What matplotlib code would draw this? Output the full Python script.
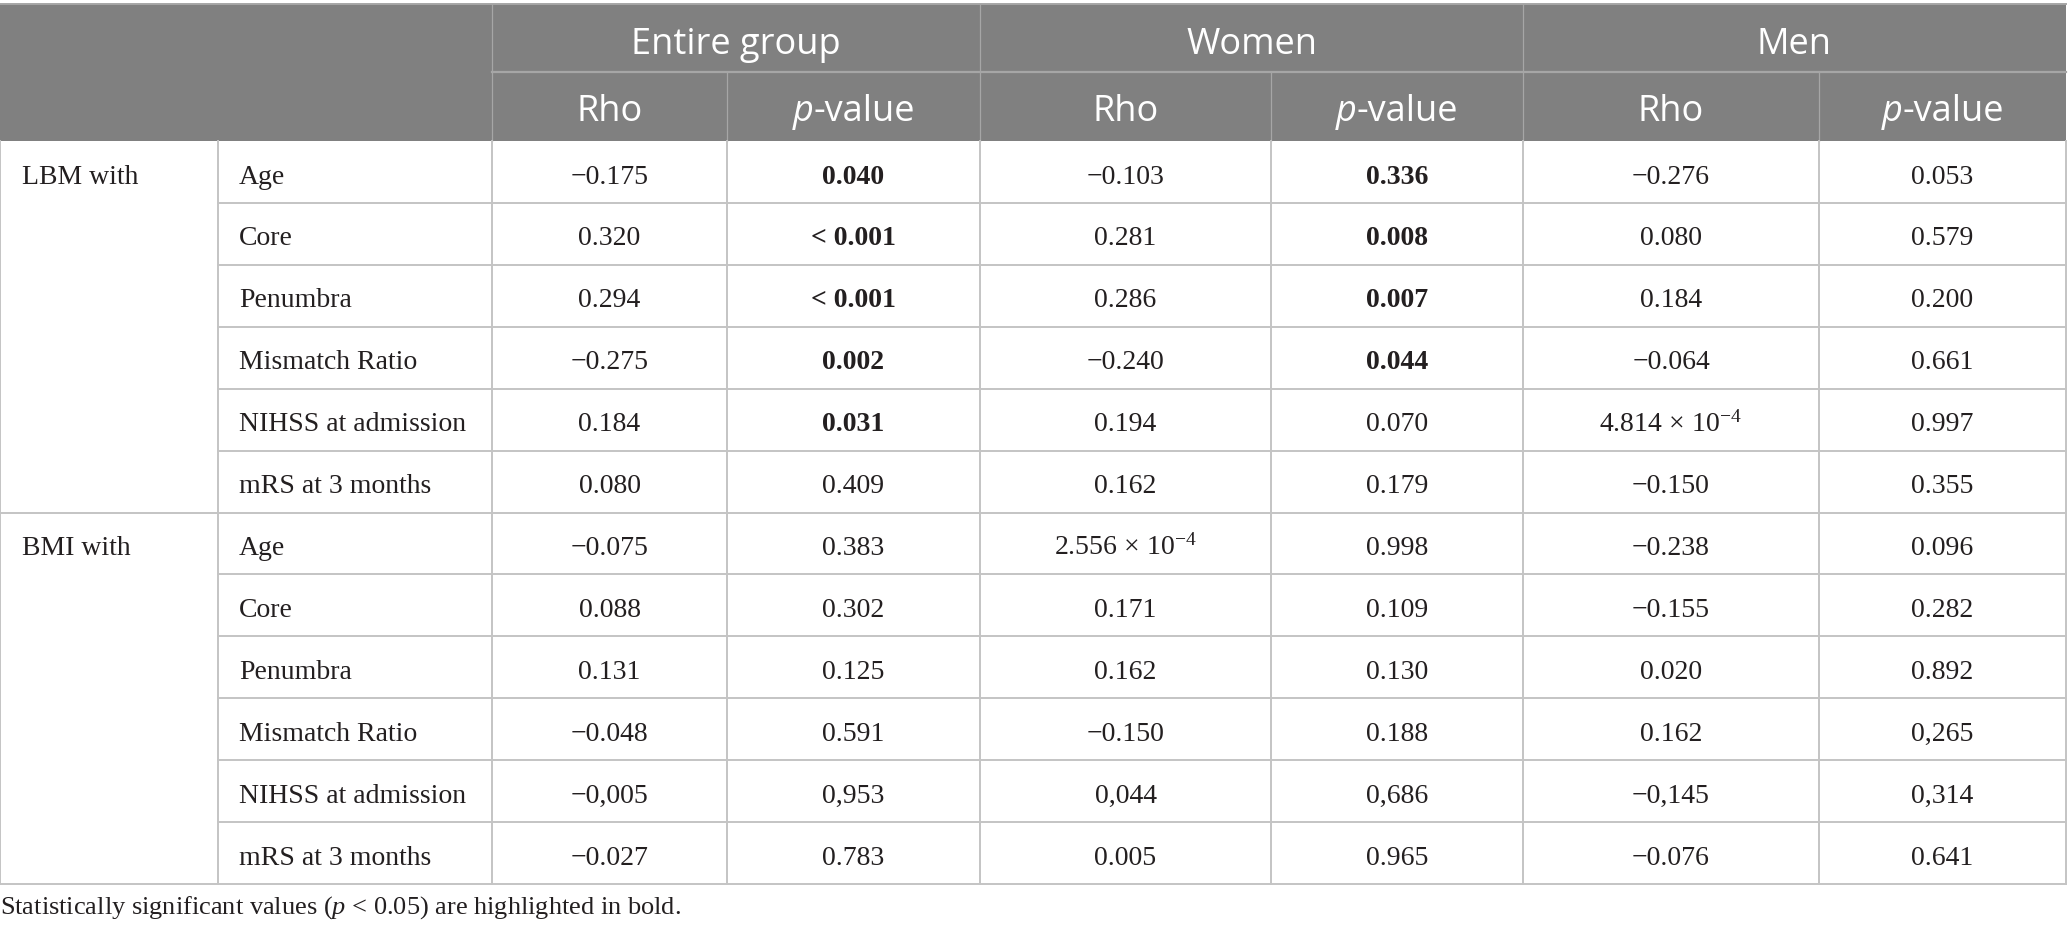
import matplotlib
matplotlib.use("Agg")
import matplotlib.pyplot as plt
from matplotlib.patches import Rectangle

plt.rcParams['mathtext.fontset'] = 'custom'
plt.rcParams['mathtext.rm'] = 'Liberation Serif'
plt.rcParams['mathtext.it'] = 'Liberation Serif:italic'

# Date tabel
groups = ['Entire group', 'Women', 'Men']
subheads = ['Rho', 'p-value']
blocks = ['LBM with', 'BMI with']
variables = ['Age', 'Core', 'Penumbra', 'Mismatch Ratio', 'NIHSS at admission', 'mRS at 3 months']

lbm_values = [
    ['\u22120.175', '0.040', '\u22120.103', '0.336', '\u22120.276', '0.053'],
    ['0.320', '< 0.001', '0.281', '0.008', '0.080', '0.579'],
    ['0.294', '< 0.001', '0.286', '0.007', '0.184', '0.200'],
    ['\u22120.275', '0.002', '\u22120.240', '0.044', '\u22120.064', '0.661'],
    ['0.184', '0.031', '0.194', '0.070', r'$\mathrm{4.814\,\times\,10^{-4}}$', '0.997'],
    ['0.080', '0.409', '0.162', '0.179', '\u22120.150', '0.355'],
]
lbm_bold = [
    [0, 1, 0, 1, 0, 0],
    [0, 1, 0, 1, 0, 0],
    [0, 1, 0, 1, 0, 0],
    [0, 1, 0, 1, 0, 0],
    [0, 1, 0, 0, 0, 0],
    [0, 0, 0, 0, 0, 0],
]
bmi_values = [
    ['\u22120.075', '0.383', r'$\mathrm{2.556\,\times\,10^{-4}}$', '0.998', '\u22120.238', '0.096'],
    ['0.088', '0.302', '0.171', '0.109', '\u22120.155', '0.282'],
    ['0.131', '0.125', '0.162', '0.130', '0.020', '0.892'],
    ['\u22120.048', '0.591', '\u22120.150', '0.188', '0.162', '0,265'],
    ['\u22120,005', '0,953', '0,044', '0,686', '\u22120,145', '0,314'],
    ['\u22120.027', '0.783', '0.005', '0.965', '\u22120.076', '0.641'],
]
bmi_bold = [[0] * 6 for _ in range(6)]
footnote = 'Statistically significant values ($\\it{p}$ < 0.05) are highlighted in bold.'

# Geometrie (pixeli)
W, H = 2068, 936
col_edges = [0, 218, 492, 727, 980, 1271, 1523, 1819, 2066]
top, mid, head_bot = 4, 72, 141
row_h = (884 - head_bot) / 12

header_bg = '#808080'
header_line = '#a6a6a6'
grid = '#c4c4c4'
txt = '#231f20'
serif = 'Liberation Serif'
sans = 'Open Sans'
fs_body = 20
fs_head = 26

fig = plt.figure(figsize=(W / 100, H / 100), dpi=100)
ax = fig.add_axes([0, 0, 1, 1])
ax.set_xlim(0, W)
ax.set_ylim(H, 0)
ax.axis('off')

# Antet
ax.add_patch(Rectangle((0, top), col_edges[-1], head_bot - top, color=header_bg, lw=0))
ax.plot([0, col_edges[-1]], [top, top], color=header_line, lw=1.4)
ax.plot([col_edges[2], col_edges[-1]], [mid, mid], color=header_line, lw=1.6)
for i, x in enumerate(col_edges[2:-1]):
    y0 = top if i % 2 == 0 else mid
    ax.plot([x, x], [y0, head_bot], color=header_line, lw=0.9)

renderer = fig.canvas.get_renderer()
for g, name in enumerate(groups):
    xc = (col_edges[2 + 2 * g] + col_edges[4 + 2 * g]) / 2
    ax.text(xc, top + 50, name, ha='center', va='baseline', color='white',
            fontsize=fs_head, family=sans)
    for s, sub in enumerate(subheads):
        xs = (col_edges[2 + 2 * g + s] + col_edges[3 + 2 * g + s]) / 2
        if s == 0:
            ax.text(xs, head_bot - 20, sub, ha='center', va='baseline',
                    color='white', fontsize=fs_head, family=sans)
        else:
            # p italic + "-value", centrate impreuna
            t1 = ax.text(0, head_bot - 20, 'p', ha='left', va='baseline', color='white',
                         fontsize=fs_head, family=sans, style='italic')
            t2 = ax.text(0, head_bot - 20, '-value', ha='left', va='baseline',
                         color='white', fontsize=fs_head, family=sans)
            w1 = t1.get_window_extent(renderer).width
            w2 = t2.get_window_extent(renderer).width
            x0 = xs - (w1 + w2) / 2
            t1.set_x(x0)
            t2.set_x(x0 + w1)

# Corp tabel
all_values = [lbm_values, bmi_values]
all_bold = [lbm_bold, bmi_bold]
for b, block in enumerate(blocks):
    for r, var in enumerate(variables):
        ri = b * 6 + r
        y0 = head_bot + ri * row_h
        yb = y0 + 42.5
        if r == 0:
            ax.text(col_edges[0] + 22, yb, block, ha='left', va='baseline',
                    fontsize=fs_body, family=serif, color=txt)
        ax.text(col_edges[1] + 21, yb, var, ha='left', va='baseline',
                fontsize=fs_body, family=serif, color=txt)
        for c in range(6):
            val = all_values[b][r][c]
            xc = (col_edges[2 + c] + col_edges[3 + c]) / 2
            ax.text(xc, yb, val, ha='center', va='baseline',
                    fontsize=fs_body, family=serif, color=txt,
                    fontweight='bold' if all_bold[b][r][c] else 'normal')
        # linie orizontala sub rand
        y1 = y0 + row_h
        x_start = 0 if r == 5 else col_edges[1]
        ax.plot([x_start, col_edges[-1]], [y1, y1], color=grid, lw=1.4)

for x in col_edges:
    ax.plot([x, x], [head_bot, 884], color=grid, lw=1.4)

ax.text(0, 914, footnote, ha='left', va='baseline', fontsize=19, family=serif, color=txt)

fig.savefig('out.png', dpi=100)
